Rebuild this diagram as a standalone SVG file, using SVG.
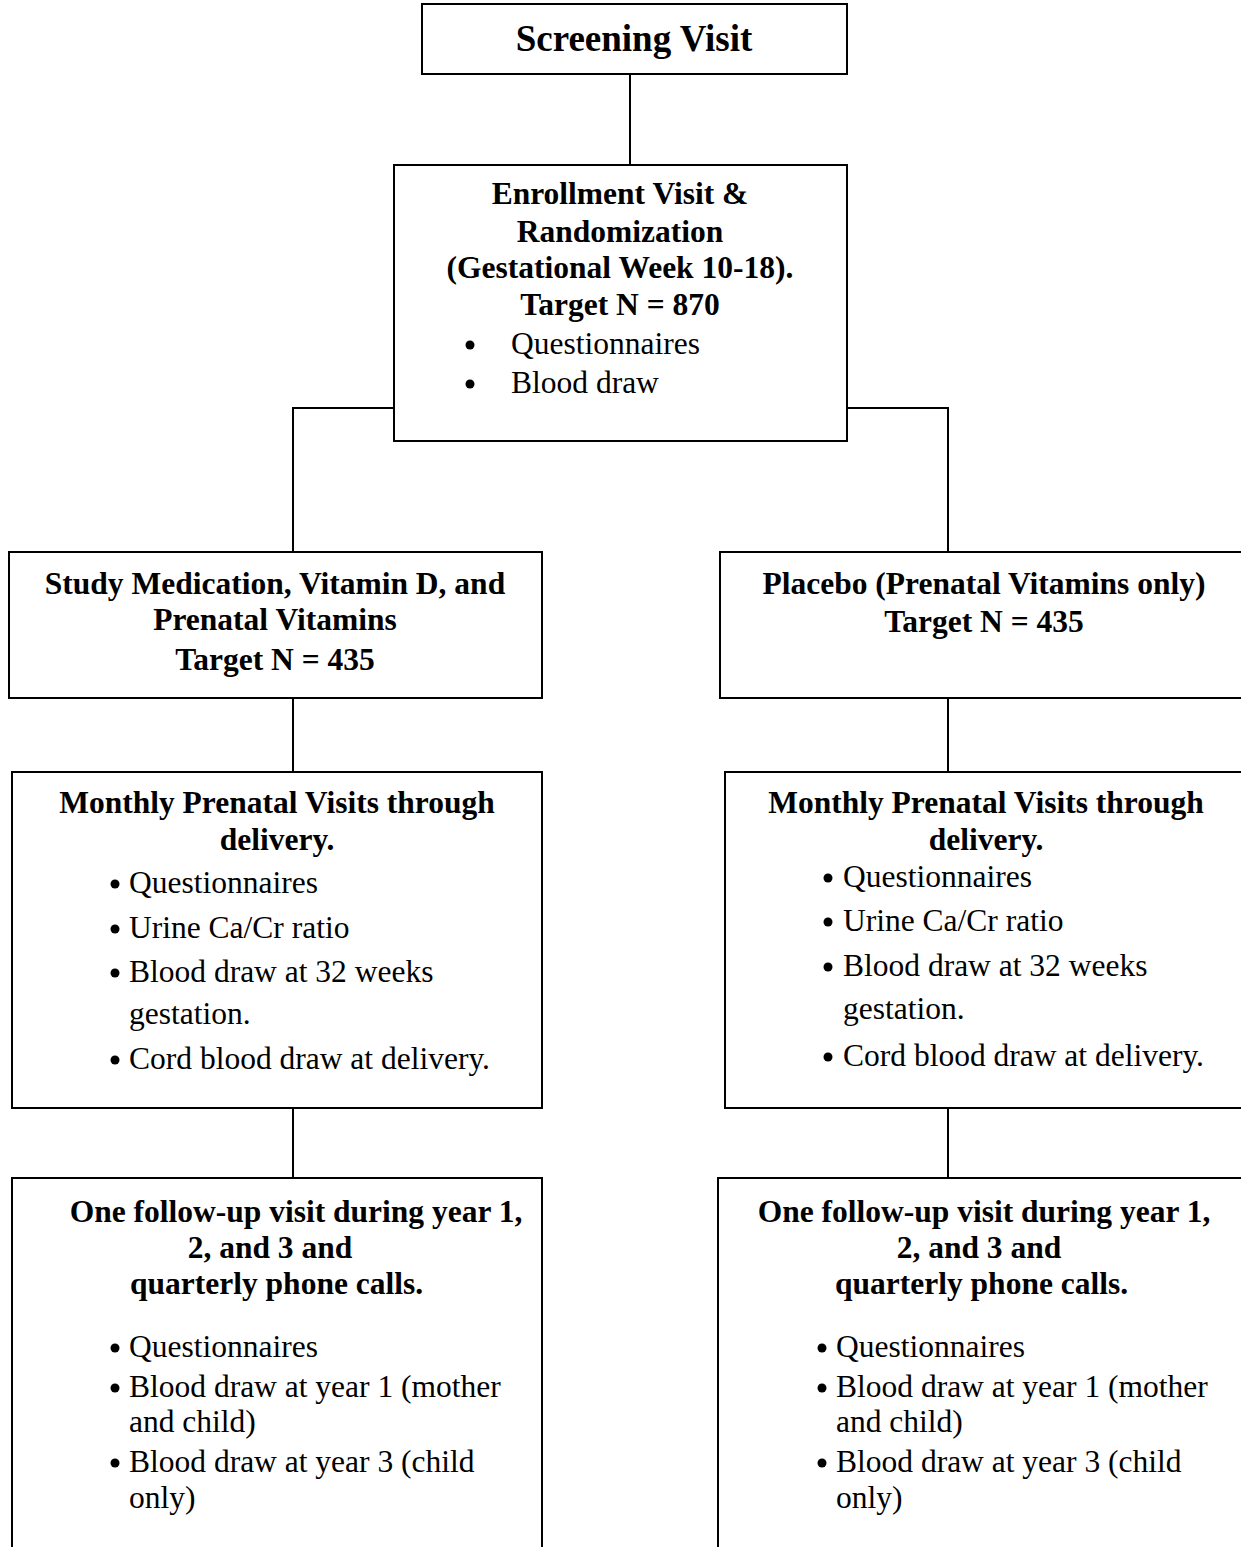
<svg xmlns="http://www.w3.org/2000/svg" width="1241" height="1547" viewBox="0 0 1241 1547">
<style>
.box{fill:#fff;stroke:#000;stroke-width:2}
.conn{fill:none;stroke:#000;stroke-width:2}
text{font-family:"Liberation Serif","Times New Roman",serif;fill:#000;font-size:31.5px}
.b{font-weight:bold}
.c{text-anchor:middle}
.big{font-size:37px}
.dot{fill:#000}
</style>
<rect width="1241" height="1547" fill="#fff"/>
<g id="connectors">
<line class="conn" x1="630" y1="74" x2="630" y2="165"/>
<polyline class="conn" points="394,408 293,408 293,552"/>
<polyline class="conn" points="847,408 948,408 948,552"/>
<line class="conn" x1="293" y1="698" x2="293" y2="772"/>
<line class="conn" x1="948" y1="698" x2="948" y2="772"/>
<line class="conn" x1="293" y1="1108" x2="293" y2="1178"/>
<line class="conn" x1="948" y1="1108" x2="948" y2="1178"/>
</g>
<g id="screening">
<rect class="box" x="422" y="4" width="425" height="70"/>
<text class="b c big" x="634" y="51">Screening Visit</text>
</g>
<g id="enrollment">
<rect class="box" x="394" y="165" width="453" height="276"/>
<text class="b c" x="620" y="204">Enrollment Visit &amp;</text>
<text class="b c" x="620" y="242">Randomization</text>
<text class="b c" x="620" y="278">(Gestational Week 10-18).</text>
<text class="b c" x="620" y="315">Target N = 870</text>
<circle class="dot" cx="470" cy="345" r="4.5"/>
<text x="511" y="354">Questionnaires</text>
<circle class="dot" cx="470" cy="384" r="4.5"/>
<text x="511" y="393">Blood draw</text>
</g>
<g id="treatment">
<rect class="box" x="9" y="552" width="533" height="146"/>
<text class="b c" x="275" y="594">Study Medication, Vitamin D, and</text>
<text class="b c" x="275" y="630">Prenatal Vitamins</text>
<text class="b c" x="275" y="670">Target N = 435</text>
</g>
<g id="placebo">
<rect class="box" x="720" y="552" width="540" height="146"/>
<text class="b c" x="984" y="594">Placebo (Prenatal Vitamins only)</text>
<text class="b c" x="984" y="632">Target N = 435</text>
</g>
<g id="monthly-left">
<rect class="box" x="12" y="772" width="530" height="336"/>
<text class="b c" x="277" y="813">Monthly Prenatal Visits through</text>
<text class="b c" x="277" y="850">delivery.</text>
<circle class="dot" cx="115" cy="884" r="4.5"/>
<text x="129" y="893">Questionnaires</text>
<circle class="dot" cx="115" cy="929" r="4.5"/>
<text x="129" y="938">Urine Ca/Cr ratio</text>
<circle class="dot" cx="115" cy="973" r="4.5"/>
<text x="129" y="982">Blood draw at 32 weeks</text>
<text x="129" y="1024">gestation.</text>
<circle class="dot" cx="115" cy="1060" r="4.5"/>
<text x="129" y="1069">Cord blood draw at delivery.</text>
</g>
<g id="monthly-right">
<rect class="box" x="725" y="772" width="540" height="336"/>
<text class="b c" x="986" y="813">Monthly Prenatal Visits through</text>
<text class="b c" x="986" y="850">delivery.</text>
<circle class="dot" cx="828" cy="878" r="4.5"/>
<text x="843" y="887">Questionnaires</text>
<circle class="dot" cx="828" cy="922" r="4.5"/>
<text x="843" y="931">Urine Ca/Cr ratio</text>
<circle class="dot" cx="828" cy="967" r="4.5"/>
<text x="843" y="976">Blood draw at 32 weeks</text>
<text x="843" y="1019">gestation.</text>
<circle class="dot" cx="828" cy="1057" r="4.5"/>
<text x="843" y="1066">Cord blood draw at delivery.</text>
</g>
<g id="followup-left">
<rect class="box" x="12" y="1178" width="530" height="400"/>
<text class="b c" x="296" y="1222">One follow-up visit during year 1,</text>
<text class="b c" x="270" y="1258">2, and 3 and</text>
<text class="b" x="130" y="1294">quarterly phone calls.</text>
<circle class="dot" cx="115" cy="1348" r="4.5"/>
<text x="129" y="1357">Questionnaires</text>
<circle class="dot" cx="115" cy="1388" r="4.5"/>
<text x="129" y="1397">Blood draw at year 1 (mother</text>
<text x="129" y="1432">and child)</text>
<circle class="dot" cx="115" cy="1463" r="4.5"/>
<text x="129" y="1472">Blood draw at year 3 (child</text>
<text x="129" y="1508">only)</text>
</g>
<g id="followup-right">
<rect class="box" x="718" y="1178" width="540" height="400"/>
<text class="b c" x="984" y="1222">One follow-up visit during year 1,</text>
<text class="b c" x="979" y="1258">2, and 3 and</text>
<text class="b" x="835" y="1294">quarterly phone calls.</text>
<circle class="dot" cx="822" cy="1348" r="4.5"/>
<text x="836" y="1357">Questionnaires</text>
<circle class="dot" cx="822" cy="1388" r="4.5"/>
<text x="836" y="1397">Blood draw at year 1 (mother</text>
<text x="836" y="1432">and child)</text>
<circle class="dot" cx="822" cy="1463" r="4.5"/>
<text x="836" y="1472">Blood draw at year 3 (child</text>
<text x="836" y="1508">only)</text>
</g>
</svg>
